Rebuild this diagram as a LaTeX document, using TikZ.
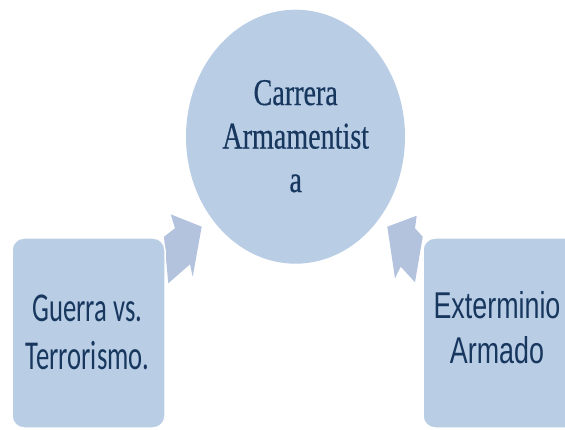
\documentclass[tikz,border=0pt]{standalone}
\usepackage{fontspec}
\usetikzlibrary{shapes.geometric}
\newfontfamily\serifc[FakeStretch=0.743,FakeBold=0.4]{Liberation Serif}
\newfontfamily\sansc[FakeStretch=0.65]{Carlito}
\newfontfamily\arialc[FakeStretch=0.72]{Liberation Sans}
\definecolor{fillblue}{HTML}{B9CDE5}
\definecolor{arrowblue}{HTML}{B3C2DD}
\definecolor{textnavy}{HTML}{17375E}
\begin{document}
\begin{tikzpicture}[x=1pt,y=-1pt,
  boxstyle/.style={fill=fillblue, draw=white, line width=1.5pt, rounded corners=12pt},
  blockarrow/.style={fill=arrowblue, draw=none},
  txt/.style={text=textnavy, align=center, inner sep=0pt}]
\useasboundingbox (0,0) rectangle (565,430);
\clip (0,0) rectangle (565,430);
% block arrows
\filldraw[blockarrow] (201.7,226.7) -- (170.7,214.3) -- (175,228.3) -- (164,236.7)
  -- (168.3,283.3) -- (190,264.3) -- (192.7,276.7) -- cycle;
\filldraw[blockarrow] (387.3,226.7) -- (416.7,215.7) -- (415,228.3) -- (422.7,236.7)
  -- (415,282.3) -- (400.7,266.7) -- (395,278.3) -- cycle;
% circle
\node (circ) [ellipse, fill=fillblue, minimum width=219pt, minimum height=254pt, inner sep=0pt] at (295.5,136.7) {};
\node (circtxt) [txt, font=\serifc\fontsize{37.8pt}{43.5pt}\selectfont] at (295.7,136.2) {Carrera\\Armamentist\\a};
% boxes
\path[boxstyle] (12,238) rectangle (165,428);
\path[boxstyle] (423,238) rectangle (600,428);
\node (left) [txt, font=\sansc\fontsize{41pt}{47.5pt}\selectfont] at (87.5,332.3) {Guerra vs.\\Terrorismo.};
\node (right) [txt, font=\arialc\fontsize{37.3pt}{45.7pt}\selectfont] at (497,327.8) {Exterminio\\Armado};
\end{tikzpicture}
\end{document}
